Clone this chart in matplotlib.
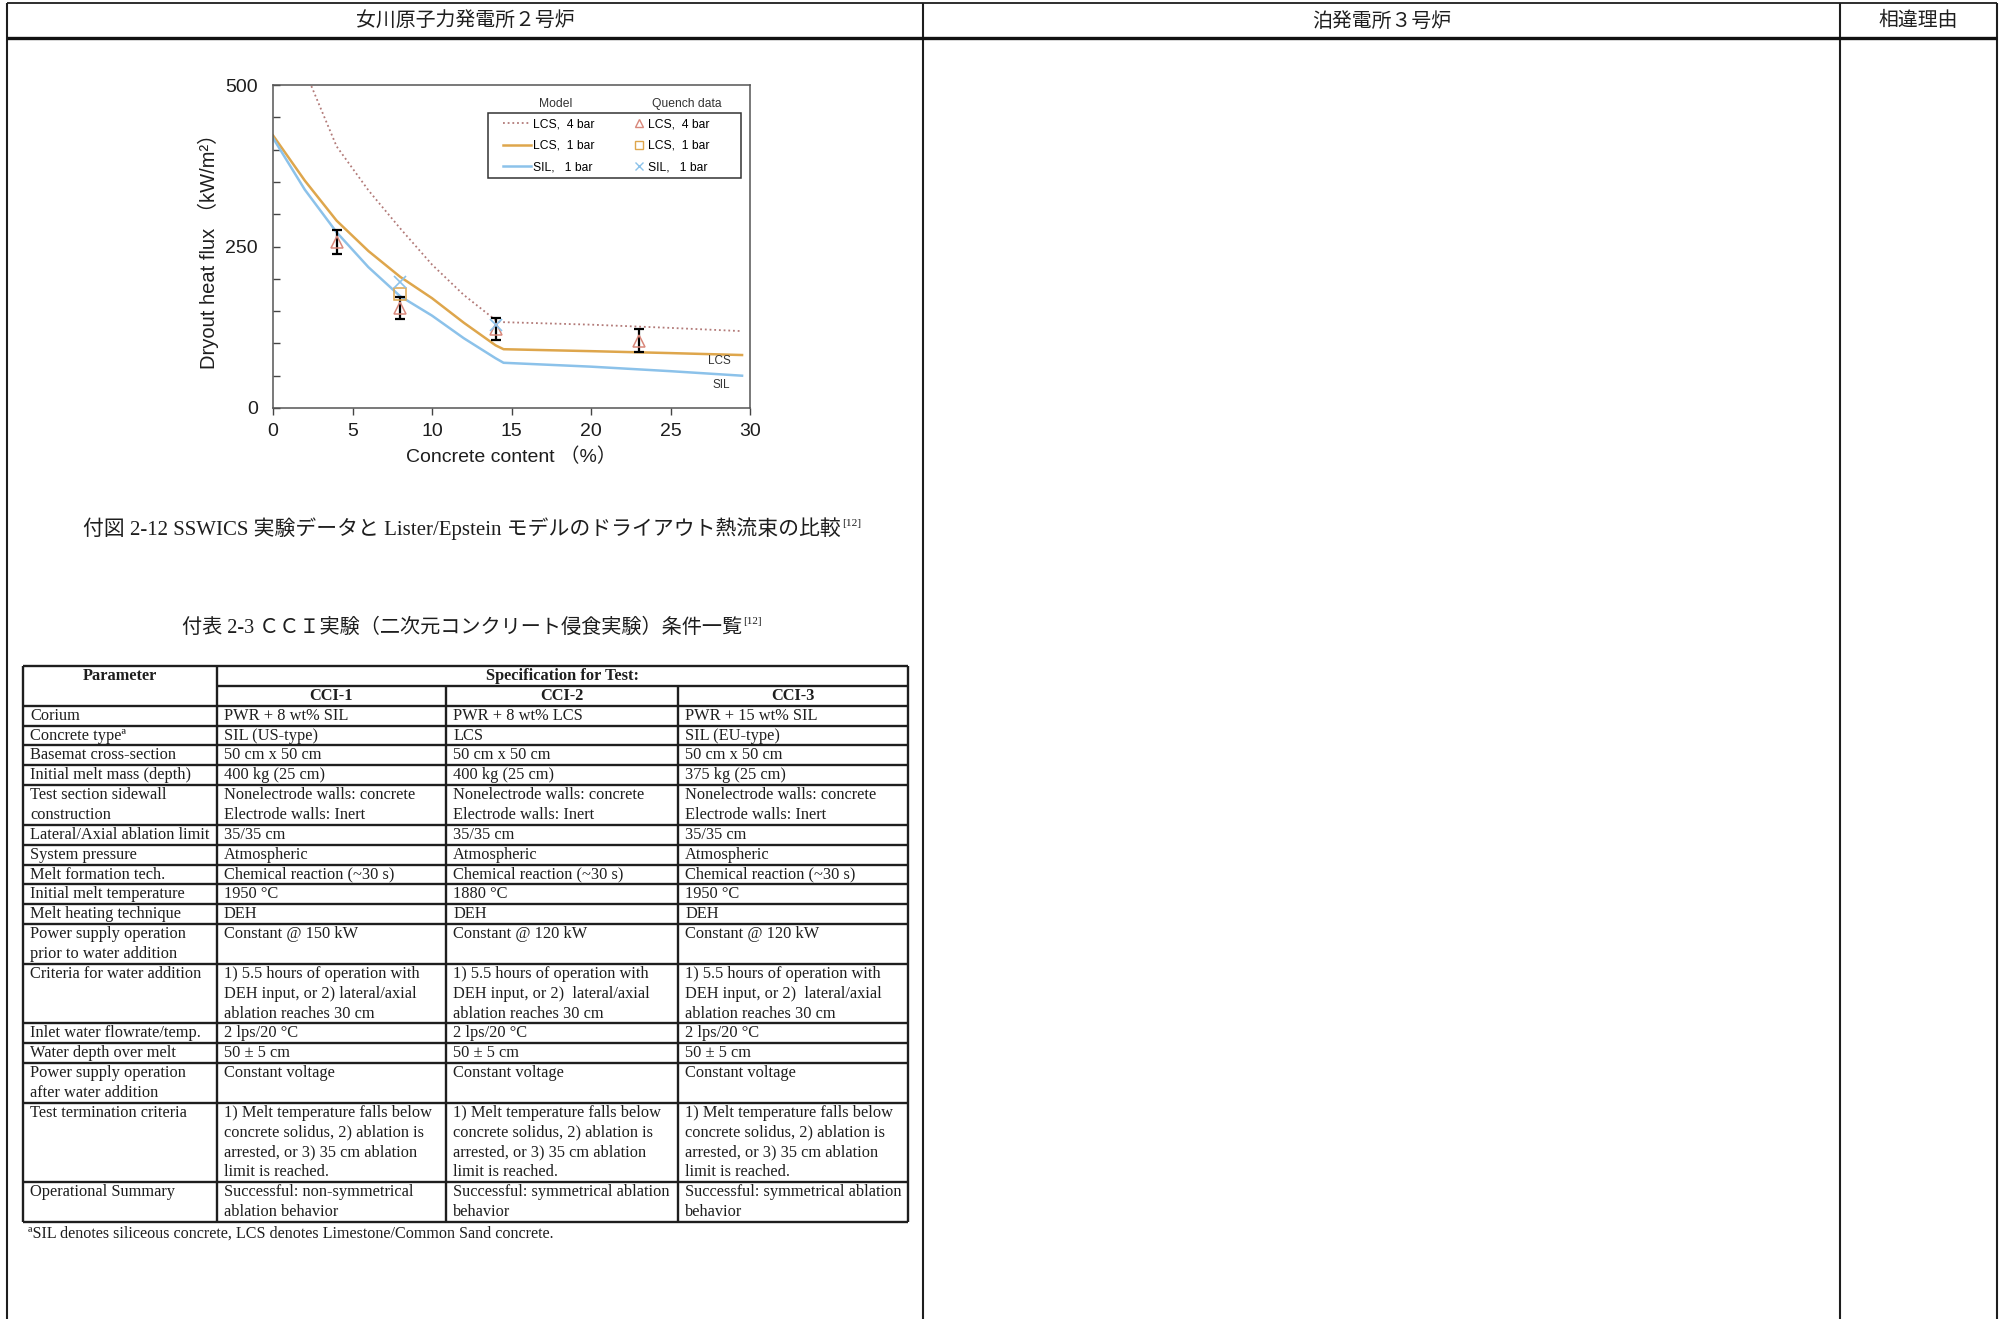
import matplotlib
matplotlib.use("Agg")
import matplotlib.pyplot as plt
from matplotlib.lines import Line2D
from matplotlib.patches import Rectangle

plt.rcParams['font.family'] = ['Liberation Sans', 'Noto Sans CJK JP']

# ---- chart data ----
conc = [0, 2, 4, 6, 8, 10, 12, 14, 14.5, 20, 25, 29.5]
lcs_1bar = [422, 352, 290, 243, 203, 170, 132, 97, 91, 88, 85, 82]
sil_1bar = [418, 338, 272, 218, 173, 143, 108, 77, 70, 64, 57, 50]
conc_4bar = [2.3, 4, 6, 8, 10, 12, 14, 14.3, 20, 25, 29.5]
lcs_4bar = [505, 405, 337, 278, 222, 175, 136, 133, 129, 124, 119]

quench_x = [4, 8, 14, 23]
quench_lcs4 = [257, 155, 122, 104]
quench_err = [18, 17, 17, 18]
quench_lcs1_x = [8]
quench_lcs1 = [177]
quench_sil_x = [8, 14]
quench_sil = [195, 128]

legend_labels = ['LCS,  4 bar', 'LCS,  1 bar', 'SIL,   1 bar']

# ---- page text ----
col_titles = ['女川原子力発電所２号炉', '泊発電所３号炉', '相違理由']
fig_caption = '付図 2-12 SSWICS 実験データと Lister/Epstein モデルのドライアウト熱流束の比較'
tab_caption = '付表 2-3 ＣＣＩ実験（二次元コンクリート侵食実験）条件一覧'
ref_mark = '[12]'

# ---- table data ----
tab_head = ['Parameter', 'Specification for Test:', 'CCI-1', 'CCI-2', 'CCI-3']
params = ['Corium', 'Concrete typeª', 'Basemat cross-section', 'Initial melt mass (depth)',
          'Test section sidewall\nconstruction', 'Lateral/Axial ablation limit',
          'System pressure', 'Melt formation tech.', 'Initial melt temperature',
          'Melt heating technique', 'Power supply operation\nprior to water addition',
          'Criteria for water addition', 'Inlet water flowrate/temp.', 'Water depth over melt',
          'Power supply operation\nafter water addition', 'Test termination criteria',
          'Operational Summary']
cci1 = ['PWR + 8 wt% SIL', 'SIL (US-type)', '50 cm x 50 cm', '400 kg (25 cm)',
        'Nonelectrode walls: concrete\nElectrode walls: Inert', '35/35 cm', 'Atmospheric',
        'Chemical reaction (~30 s)', '1950 °C', 'DEH', 'Constant @ 150 kW',
        '1) 5.5 hours of operation with\nDEH input, or 2) lateral/axial\nablation reaches 30 cm',
        '2 lps/20 °C', '50 ± 5 cm', 'Constant voltage',
        '1) Melt temperature falls below\nconcrete solidus, 2) ablation is\narrested, or 3) 35 cm ablation\nlimit is reached.',
        'Successful: non-symmetrical\nablation behavior']
cci2 = ['PWR + 8 wt% LCS', 'LCS', '50 cm x 50 cm', '400 kg (25 cm)',
        'Nonelectrode walls: concrete\nElectrode walls: Inert', '35/35 cm', 'Atmospheric',
        'Chemical reaction (~30 s)', '1880 °C', 'DEH', 'Constant @ 120 kW',
        '1) 5.5 hours of operation with\nDEH input, or 2)  lateral/axial\nablation reaches 30 cm',
        '2 lps/20 °C', '50 ± 5 cm', 'Constant voltage',
        '1) Melt temperature falls below\nconcrete solidus, 2) ablation is\narrested, or 3) 35 cm ablation\nlimit is reached.',
        'Successful: symmetrical ablation\nbehavior']
cci3 = ['PWR + 15 wt% SIL', 'SIL (EU-type)', '50 cm x 50 cm', '375 kg (25 cm)',
        'Nonelectrode walls: concrete\nElectrode walls: Inert', '35/35 cm', 'Atmospheric',
        'Chemical reaction (~30 s)', '1950 °C', 'DEH', 'Constant @ 120 kW',
        '1) 5.5 hours of operation with\nDEH input, or 2)  lateral/axial\nablation reaches 30 cm',
        '2 lps/20 °C', '50 ± 5 cm', 'Constant voltage',
        '1) Melt temperature falls below\nconcrete solidus, 2) ablation is\narrested, or 3) 35 cm ablation\nlimit is reached.',
        'Successful: symmetrical ablation\nbehavior']
footnote = 'ªSIL denotes siliceous concrete, LCS denotes Limestone/Common Sand concrete.'

W, H = 2000, 1319
fig = plt.figure(figsize=(W / 100, H / 100), dpi=100)
renderer = fig.canvas.get_renderer()

# full page axes in pixel units (y down)
page = fig.add_axes([0, 0, 1, 1])
page.set_xlim(0, W)
page.set_ylim(H, 0)
page.axis('off')

ink = '#1e1e1e'
col_x = [7, 923, 1840, 1997]
page.vlines(col_x, 3, H, colors=ink, lw=1.5)
page.hlines(3, col_x[0], col_x[-1], colors=ink, lw=1.3)
page.hlines(38, col_x[0], col_x[-1], colors='#111', lw=2.4)
for i, t in enumerate(col_titles):
    page.text((col_x[i] + col_x[i + 1]) / 2, 21, t, ha='center', va='center',
              fontsize=14.3, color=ink, family=['Noto Sans CJK JP'])


def caption(y, text, size):
    t = page.text(462, y, text, ha='center', va='center', fontsize=size, color=ink,
                  family=['Liberation Serif', 'Noto Sans CJK JP'])
    bb = t.get_window_extent(renderer)
    page.text(bb.x1 + 1, y - 6, ref_mark, ha='left', va='center', fontsize=size * 0.55,
              color=ink, family=['Liberation Serif'])


caption(529, fig_caption, 15)
caption(628, tab_caption, 14.5)

# ---- table ----
ser = ['Liberation Serif']
col_edges = [23, 217, 446, 678, 908]
tab_top, tab_bot = 666, 1222
rows = list(zip(params, cci1, cci2, cci3))
n_lines = [max(len(c.split('\n')) for c in r) for r in rows]
unit = (tab_bot - tab_top) / (2 + sum(n_lines))
tlw = 1.7
page.hlines([tab_top, tab_bot], col_edges[0], col_edges[-1], colors=ink, lw=tlw)
page.vlines([col_edges[0], col_edges[1], col_edges[-1]], tab_top, tab_bot, colors=ink, lw=tlw)
page.vlines(col_edges[2:4], tab_top + unit, tab_bot, colors=ink, lw=tlw)
page.hlines(tab_top + unit, col_edges[1], col_edges[-1], colors=ink, lw=tlw)
page.hlines(tab_top + 2 * unit, col_edges[0], col_edges[-1], colors=ink, lw=tlw)

fs_tab = 11.8
page.text((col_edges[0] + col_edges[1]) / 2, tab_top + unit / 2, tab_head[0], ha='center',
          va='center', fontsize=fs_tab, weight='bold', color=ink, family=ser)
page.text((col_edges[1] + col_edges[-1]) / 2, tab_top + unit / 2, tab_head[1], ha='center',
          va='center', fontsize=fs_tab, weight='bold', color=ink, family=ser)
for j in range(3):
    page.text((col_edges[j + 1] + col_edges[j + 2]) / 2, tab_top + 1.5 * unit, tab_head[j + 2],
              ha='center', va='center', fontsize=fs_tab, weight='bold', color=ink, family=ser)

y0 = tab_top + 2 * unit
for r, n in zip(rows, n_lines):
    for j, cell in enumerate(r):
        for k, line in enumerate(cell.split('\n')):
            page.text(col_edges[j] + 7, y0 + (k + 0.5) * unit, line, ha='left', va='center',
                      fontsize=fs_tab, color=ink, family=ser)
    y0 += n * unit
    if y0 < tab_bot - 1:
        page.hlines(y0, col_edges[0], col_edges[-1], colors=ink, lw=tlw)

page.text(28, 1234, footnote, ha='left', va='center', fontsize=11.6, color=ink, family=ser)

# ---- chart ----
c4, c1, cs = '#b27a78', '#dea64c', '#8cc2ea'
ax = fig.add_axes([273 / W, 1 - 408 / H, 477 / W, 323 / H])
ax.plot(conc_4bar, lcs_4bar, color=c4, lw=1.3, ls=(0, (1, 1.6)))
ax.plot(conc, lcs_1bar, color=c1, lw=1.8)
ax.plot(conc, sil_1bar, color=cs, lw=1.8)
ax.errorbar(quench_x, quench_lcs4, yerr=quench_err, fmt='none', ecolor='k', elinewidth=1.6,
            capsize=3.5, capthick=1.6, zorder=3)
ax.plot(quench_x, quench_lcs4, ls='none', marker='^', ms=8, mfc='none', mec='#d8877a', mew=1.1, zorder=4)
ax.plot(quench_lcs1_x, quench_lcs1, ls='none', marker='s', ms=8, mfc='none', mec=c1, mew=1.1, zorder=4)
ax.plot(quench_sil_x, quench_sil, ls='none', marker='x', ms=8, mec=cs, mew=1.2, zorder=4)

ax.set_xlim(0, 30)
ax.set_ylim(0, 500)
ax.set_xticks(range(0, 31, 5))
ax.set_yticks(range(0, 501, 50))
ax.set_yticklabels([str(v) if v % 250 == 0 else '' for v in range(0, 501, 50)])
ax.tick_params(axis='x', direction='out', length=5, width=1, pad=6, labelsize=14, colors='#444',
               labelcolor=ink)
ax.tick_params(axis='y', direction='in', length=5, width=1, pad=11, labelsize=14, colors='#444',
               labelcolor=ink)
for s in ax.spines.values():
    s.set_color('#555')
    s.set_linewidth(1.1)

ax.set_xlabel('Concrete content （%）', fontsize=14, color=ink, va='center')
ax.xaxis.set_label_coords(0.5, (408 - 457) / 323)
ax.set_ylabel('Dryout heat flux （kW/m²）', fontsize=14.5, color=ink, va='center')
ax.yaxis.set_label_coords((208 - 273) / 477, 0.5)

ax.text(28.1, 73, 'LCS', fontsize=8.5, ha='center', va='center', color='#333')
ax.text(28.2, 36, 'SIL', fontsize=8.5, ha='center', va='center', color='#333')

line_handles = [Line2D([], [], color=c4, lw=1.3, ls=(0, (1, 1.6))),
                Line2D([], [], color=c1, lw=1.8),
                Line2D([], [], color=cs, lw=1.8)]
mark_handles = [Line2D([], [], ls='none', marker='^', ms=6, mfc='none', mec='#d8877a'),
                Line2D([], [], ls='none', marker='s', ms=6, mfc='none', mec=c1),
                Line2D([], [], ls='none', marker='x', ms=6, mec=cs)]
leg_y = (408 - 146) / 323
leg1 = ax.legend(line_handles, legend_labels, loc='center left',
                 bbox_to_anchor=((503 - 273) / 477, leg_y), frameon=False, fontsize=8.7,
                 handlelength=2.3, handletextpad=0.15, labelspacing=0.78, borderpad=0,
                 borderaxespad=0)
ax.add_artist(leg1)
ax.legend(mark_handles, legend_labels, loc='center left',
          bbox_to_anchor=((634 - 273) / 477, leg_y), frameon=False, fontsize=8.7,
          handlelength=0.9, handletextpad=0.3, labelspacing=0.78, borderpad=0, borderaxespad=0)
ax.add_patch(Rectangle(((488 - 273) / 477, (408 - 178) / 323), (741 - 488) / 477, 65 / 323,
                       transform=ax.transAxes, fill=False, ec='#333', lw=1.1, zorder=5))
ax.text((556 - 273) / 477, (408 - 104) / 323, 'Model', transform=ax.transAxes, fontsize=8.7,
        ha='center', va='center', color='#333')
ax.text((687 - 273) / 477, (408 - 104) / 323, 'Quench data', transform=ax.transAxes, fontsize=8.7,
        ha='center', va='center', color='#333')

fig.savefig('out.png', dpi=100)
